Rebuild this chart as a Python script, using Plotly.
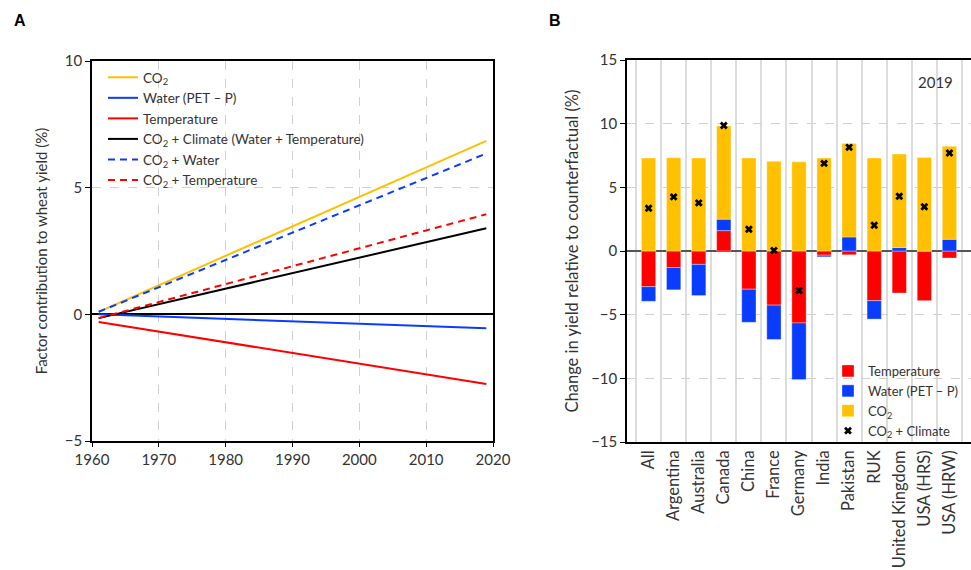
import plotly.graph_objects as go

# ---------- Panel A data ----------
years = [1961, 2019]
co2_a = [0.1, 6.85]
water_a = [0.0, -0.55]
temp_a = [-0.3, -2.75]
co2clim_a = [-0.15, 3.4]
co2water_a = [0.1, 6.35]
co2temp_a = [-0.15, 3.95]
year_ticks = [1960, 1970, 1980, 1990, 2000, 2010, 2020]

# ---------- Panel B data ----------
cats = ["All", "Argentina", "Australia", "Canada", "China", "France", "Germany",
        "India", "Pakistan", "RUK", "United Kingdom", "USA (HRS)", "USA (HRW)"]
temp_b = [-2.8, -1.3, -1.05, 1.6, -3.0, -4.25, -5.65, -0.33, -0.3, -3.9, -3.3, -3.9, -0.55]
water_b = [-1.15, -1.75, -2.45, 0.9, -2.6, -2.7, -4.45, -0.13, 1.1, -1.45, 0.27, 0.0, 0.92]
co2_b = [7.3, 7.32, 7.3, 7.32, 7.3, 7.04, 7.0, 7.3, 7.35, 7.3, 7.34, 7.35, 7.3]
comb_b = [3.36, 4.25, 3.78, 9.85, 1.71, 0.05, -3.1, 6.88, 8.14, 2.02, 4.3, 3.47, 7.69]

YEL = "#FFC000"
BLU = "#0A3CFF"
RED = "#FF0000"
FONT = "Lato"
TXT = "#333333"

fig = go.Figure()

# Panel A lines
specs = [
    ("CO<sub>2</sub>", co2_a, YEL, "solid"),
    ("Water (PET – P)", water_a, BLU, "solid"),
    ("Temperature", temp_a, RED, "solid"),
    ("CO<sub>2</sub> + Climate (Water + Temperature)", co2clim_a, "black", "solid"),
    ("CO<sub>2</sub> + Water", co2water_a, BLU, "7px,5px"),
    ("CO<sub>2</sub> + Temperature", co2temp_a, RED, "7px,5px"),
]
for name, vals, col, dash in specs:
    fig.add_trace(go.Scatter(x=years, y=vals, mode="lines", name=name,
                             line=dict(color=col, width=2, dash=dash),
                             xaxis="x", yaxis="y", legend="legend"))

# Panel B bars
for name, vals, col in [("Temperature", temp_b, RED),
                        ("Water (PET – P)", water_b, BLU),
                        ("CO<sub>2</sub>", co2_b, YEL)]:
    fig.add_trace(go.Bar(x=cats, y=vals, name=name, marker=dict(color=col,
                         line=dict(color="rgba(255,255,255,0.35)", width=1)),
                         xaxis="x2", yaxis="y2", legend="legend2"))
fig.add_trace(go.Scatter(x=cats, y=comb_b, mode="markers", name="CO<sub>2</sub> + Climate",
                         marker=dict(symbol="x", size=7, color="black", line=dict(width=0)),
                         xaxis="x2", yaxis="y2", legend="legend2"))

tickfont = dict(family=FONT, size=15, color=TXT)

fig.update_layout(
    template="none",
    width=971, height=570,
    margin=dict(l=0, r=0, t=0, b=0, autoexpand=False),
    paper_bgcolor="white", plot_bgcolor="white",
    font=dict(family=FONT, size=13, color=TXT),
    barmode="relative", bargap=0.43,
    xaxis=dict(domain=[92/971, 493/971], range=[1960, 2020], tickvals=year_ticks,
               anchor="y", automargin=False,
               showline=True, linecolor="black", linewidth=1.5, mirror=True,
               ticks="outside", ticklen=4, tickcolor="black",
               showgrid=True, gridcolor="#d0d0d0", griddash="dash", gridwidth=1,
               tickfont=tickfont, zeroline=False),
    yaxis=dict(domain=[1-441/570, 1-61/570], range=[-5, 10], tickvals=[-5, 0, 5, 10],
               anchor="x", automargin=False,
               showline=True, linecolor="black", linewidth=1.5, mirror=True,
               ticks="outside", ticklen=5, tickcolor="black",
               showgrid=True, gridcolor="#d0d0d0", griddash="dash",
               zeroline=True, zerolinecolor="black", zerolinewidth=1.5,
               tickfont=tickfont,
               title=dict(text="Factor contribution to wheat yield (%)",
                          font=dict(family=FONT, size=15, color=TXT), standoff=14)),
    xaxis2=dict(domain=[627/971, 1.0], type="category", tickson="boundaries",
                anchor="y2", automargin=False,
                showline=True, linecolor="black", linewidth=1.5, mirror=True,
                ticks="", showgrid=True, gridcolor="#dcdcdc", gridwidth=1.5,
                tickangle=-90, tickfont=dict(family=FONT, size=16.5, color=TXT)),
    yaxis2=dict(domain=[1-442/570, 1-60/570], range=[-15, 15],
                anchor="x2", automargin=False,
                tickvals=[-15, -10, -5, 0, 5, 10, 15],
                showline=True, linecolor="black", linewidth=1.5,
                ticks="outside", ticklen=5, tickcolor="black",
                showgrid=True, gridcolor="#d0d0d0", griddash="dash",
                zeroline=True, zerolinecolor="#555555", zerolinewidth=1.5,
                tickfont=tickfont,
                title=dict(text="Change in yield relative to counterfactual (%)",
                           font=dict(family=FONT, size=16.5, color=TXT), standoff=8)),
    legend=dict(x=103/971, y=1-62/570, xanchor="left", yanchor="top",
                bgcolor="rgba(255,255,255,0)", font=dict(family=FONT, size=13.5, color=TXT),
                tracegroupgap=0, itemwidth=30),
    legend2=dict(x=828/971, y=1-356/570, xanchor="left", yanchor="top",
                 bgcolor="rgba(255,255,255,0)", font=dict(family=FONT, size=13, color=TXT),
                 itemwidth=30, traceorder="normal"),
    annotations=[
        dict(text="<b>A</b>", x=12/971, y=1-20/570, xref="paper", yref="paper",
             xanchor="left", yanchor="middle", showarrow=False,
             font=dict(family="Liberation Sans", size=16, color="black")),
        dict(text="<b>B</b>", x=547/971, y=1-20/570, xref="paper", yref="paper",
             xanchor="left", yanchor="middle", showarrow=False,
             font=dict(family="Liberation Sans", size=16, color="black")),
        dict(text="2019", x=955/971, y=1-82/570, xref="paper", yref="paper",
             xanchor="right", yanchor="middle", showarrow=False,
             font=dict(family=FONT, size=15, color=TXT)),
    ],
)

fig.write_html("out.html", config={"displayModeBar": False},
               post_script="document.body.style.margin='0';")
